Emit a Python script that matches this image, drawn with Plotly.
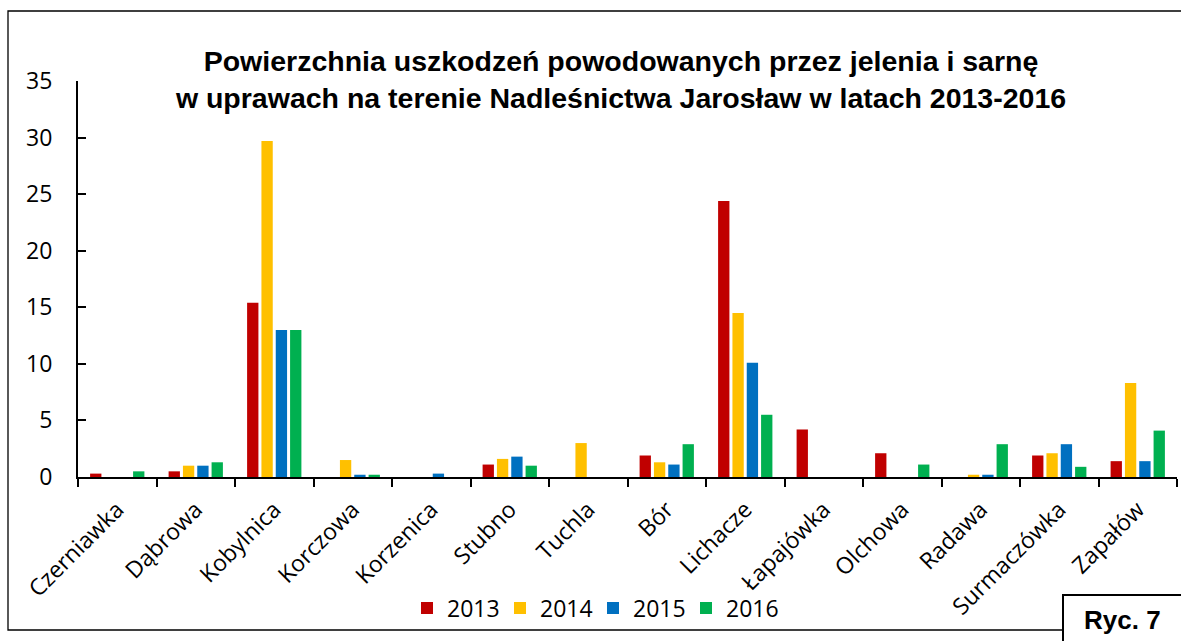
import plotly.graph_objects as go

# Forest districts (leśnictwa) of Nadleśnictwo Jarosław
districts = ["Czerniawka", "Dąbrowa", "Kobylnica", "Korczowa", "Korzenica", "Stubno",
             "Tuchla", "Bór", "Lichacze", "Łapajówka", "Olchowa", "Radawa",
             "Surmaczówka", "Zapałów"]

# Damaged area per year
area_2013 = [0.3, 0.5, 15.4, 0, 0, 1.1, 0, 1.9, 24.4, 4.2, 2.1, 0, 1.9, 1.4]
area_2014 = [0, 1.0, 29.7, 1.5, 0, 1.6, 3.0, 1.3, 14.5, 0, 0, 0.2, 2.1, 8.3]
area_2015 = [0, 1.0, 13.0, 0.2, 0.3, 1.8, 0, 1.1, 10.1, 0, 0, 0.2, 2.9, 1.4]
area_2016 = [0.5, 1.3, 13.0, 0.2, 0, 1.0, 0, 2.9, 5.5, 0, 1.1, 2.9, 0.9, 4.1]

years = ["2013", "2014", "2015", "2016"]
series = [area_2013, area_2014, area_2015, area_2016]
colors = ["#C00000", "#FFC000", "#0070C0", "#00B050"]

W, H = 1181, 641
L, R, T, B = 78, 4, 81, 164
pw, ph = W - L - R, H - T - B


def px_x(x):
    return (x - L) / pw


def px_y(y):
    return (H - B - y) / ph


label_font = "Open Sans, Lato, sans-serif"
title_font = "Liberation Sans, Arial, sans-serif"

fig = go.Figure()
for name, vals, col in zip(years, series, colors):
    fig.add_trace(go.Bar(x=districts, y=vals, name=name, marker_color=col,
                         marker_line_width=0))

fig.update_layout(
    width=W, height=H,
    margin=dict(l=L, r=R, t=T, b=B),
    paper_bgcolor="white", plot_bgcolor="white",
    barmode="group", bargap=0.27, bargroupgap=0.21,
    showlegend=True,
    legend=dict(orientation="h", x=px_x(407), y=px_y(608), xanchor="left", yanchor="middle",
                font=dict(family=label_font, size=23, color="black"),
                itemwidth=30, entrywidth=48, entrywidthmode="pixels",
                traceorder="normal", bgcolor="rgba(0,0,0,0)"),
    xaxis=dict(showline=True, linecolor="black", linewidth=2,
               ticks="outside", tickson="boundaries", ticklen=8, tickwidth=2, tickcolor="black",
               tickangle=-45, ticklabelstandoff=8,
               tickfont=dict(family=label_font, size=23, color="black"),
               showgrid=False),
    yaxis=dict(range=[0, 35], dtick=5, showline=True, linecolor="black", linewidth=2,
               ticks="inside", ticklen=8, tickwidth=2, tickcolor="black",
               ticklabelstandoff=19,
               tickfont=dict(family=label_font, size=23, color="black"),
               showgrid=False, zeroline=False),
    title=dict(text="Powierzchnia uszkodzeń powodowanych przez jelenia i sarnę<br>"
                    "w uprawach na terenie Nadleśnictwa Jarosław w latach 2013-2016",
               x=621 / W, xanchor="center", y=1 - 71 / H, yanchor="middle",
               font=dict(family=title_font, size=28.5, color="black", weight="bold")),
    shapes=[
        # outer frame of the figure
        dict(type="rect", xref="paper", yref="paper",
             x0=px_x(8), x1=px_x(1195), y0=px_y(630), y1=px_y(11),
             line=dict(color="black", width=1.3), fillcolor="rgba(0,0,0,0)", layer="below"),
        # figure number box
        dict(type="rect", xref="paper", yref="paper",
             x0=px_x(1063), x1=px_x(1195), y0=px_y(660), y1=px_y(595),
             line=dict(color="black", width=2), fillcolor="white", layer="above"),
    ],
    annotations=[
        dict(text="<b>Ryc. 7</b>", xref="paper", yref="paper",
             x=px_x(1122), y=px_y(620), xanchor="center", yanchor="middle",
             showarrow=False, font=dict(family=title_font, size=26, color="black")),
    ],
)

fig.write_html("out.html")
